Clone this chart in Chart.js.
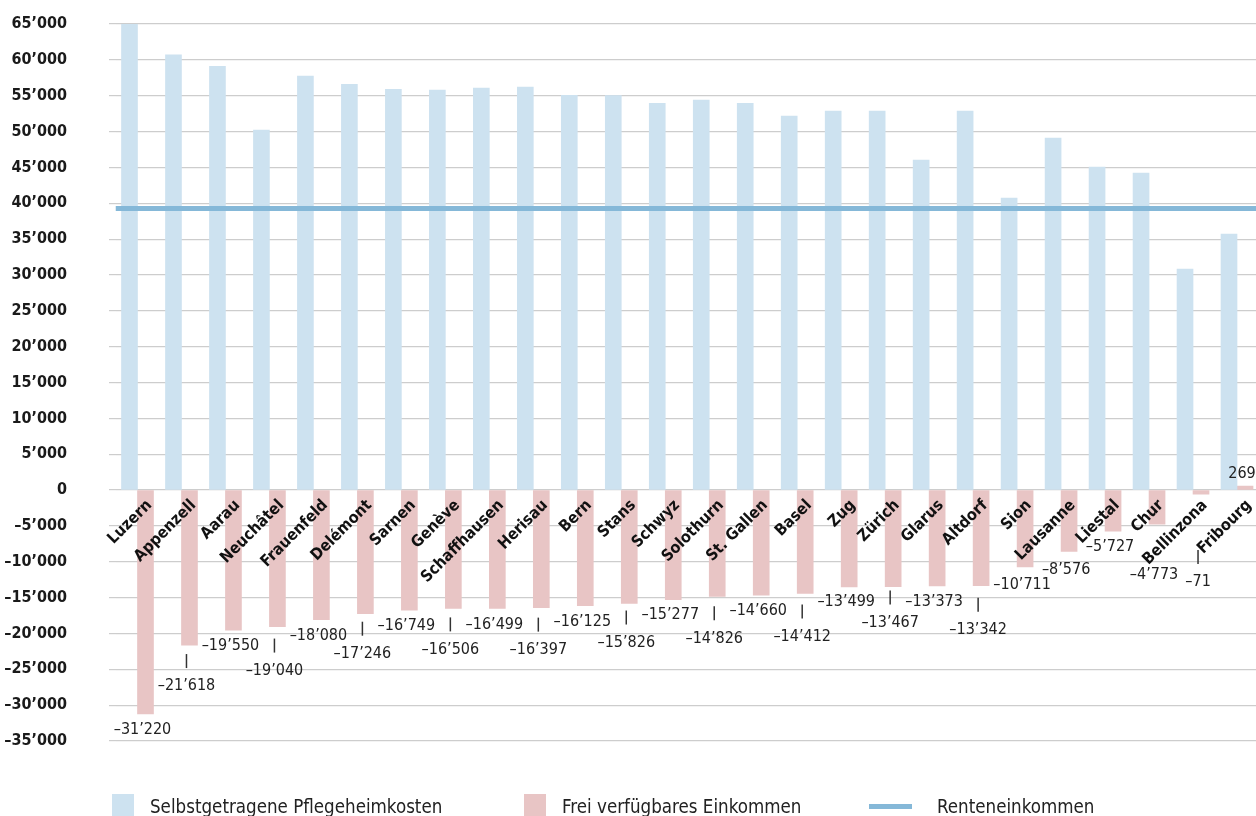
<!DOCTYPE html>
<html>
<head>
<meta charset="utf-8">
<script src="https://cdn.jsdelivr.net/npm/chart.js@4.4.0/dist/chart.umd.min.js"></script>
<style>
  html, body { margin: 0; padding: 0; background: #fff; width: 1256px; height: 816px; overflow: hidden; }
  #wrap { position: absolute; left: 0; top: 0; width: 1259px; height: 816px; }
  #legend { position: absolute; left: 0; top: 794px; width: 1256px; height: 30px;
            font-family: 'Liberation Sans Narrow', 'DejaVu Sans Condensed', sans-serif; font-size: 18.6px; color: #222; }
  .item { position: absolute; top: 0; height: 24px; display: flex; align-items: center; white-space: nowrap; }
  .swatch { width: 22px; height: 24px; margin-right: 16px; }
  .line { width: 43px; height: 5px; margin-right: 25px; }
</style>
</head>
<body>
<div id="wrap"><canvas id="myChart"></canvas></div>
<div id="legend"></div>
<script>
const cantons = ['Luzern', 'Appenzell', 'Aarau', 'Neuchâtel', 'Frauenfeld', 'Delémont', 'Sarnen', 'Genève',
  'Schaffhausen', 'Herisau', 'Bern', 'Stans', 'Schwyz', 'Solothurn', 'St. Gallen', 'Basel', 'Zug', 'Zürich',
  'Glarus', 'Altdorf', 'Sion', 'Lausanne', 'Liestal', 'Chur', 'Bellinzona', 'Fribourg'];

// Selbstgetragene Pflegeheimkosten
const pflegekosten = [65100, 60700, 59100, 50200, 57750, 56600, 55900, 55800, 56050, 56200, 55050, 55000,
  53950, 54400, 53950, 52150, 52850, 52850, 46030, 52870, 40730, 49100, 45060, 44220, 30820, 35710];

// Frei verfügbares Einkommen (values printed in the chart)
const freiEinkommen = [-31220, -21618, -19550, -19040, -18080, -17246, -16749, -16506, -16499, -16397, -16125,
  -15826, -15277, -14826, -14660, -14412, -13499, -13467, -13373, -13342, -10711, -8576, -5727, -4773, -71, 269];

const renteneinkommen = 39260;

const yMin = -35000;
const yMax = 65000;
const yStep = 5000;

// where each value label sits below (or above) its bar, and which ones get a small leader line
const labelDrop = [16, 41, 16, 44, 16, 40, 16, 41, 16, 42, 16, 39, 15, 42, 16, 43, 15, 36, 16, 44, 18, 18, 16, 51, 88, -12];
const leader = [0, 1, 0, 1, 0, 1, 0, 1, 0, 1, 0, 1, 0, 1, 0, 1, 0, 1, 0, 1, 0, 0, 0, 0, 1, 0];

const FONT = "'Liberation Sans Narrow', 'DejaVu Sans Condensed', sans-serif";

function fmt(v) {
    const s = Math.abs(v).toString().replace(/\B(?=(\d{3})+(?!\d))/g, '’');
    return (v < 0 ? '–' : '') + s;
}

const valueLabels = {
    id: 'valueLabels',
    afterDatasetsDraw(chart) {
        const ctx = chart.ctx;
        const meta = chart.getDatasetMeta(2);
        ctx.save();
        ctx.font = '16px ' + FONT;
        ctx.fillStyle = '#222';
        ctx.strokeStyle = '#333';
        ctx.lineWidth = 1.5;
        ctx.textAlign = 'center';
        ctx.textBaseline = 'middle';
        meta.data.forEach((bar, i) => {
            const x = bar.x - 3;
            const cy = bar.y + labelDrop[i];
            if (leader[i]) {
                ctx.beginPath();
                ctx.moveTo(x, cy - 32);
                ctx.lineTo(x, cy - 18);
                ctx.stroke();
            }
            ctx.fillText(fmt(freiEinkommen[i]), x, cy);
        });
        ctx.restore();
    }
};

const ctx = document.getElementById('myChart').getContext('2d');
const chart = new Chart(ctx, {
    type: 'bar',
    data: {
        labels: cantons,
        datasets: [{
            type: 'line',
            label: 'Renteneinkommen',
            data: [{x: 0, y: renteneinkommen}, {x: 1, y: renteneinkommen}],
            xAxisID: 'x2',
            borderColor: '#85b8d8',
            backgroundColor: '#85b8d8',
            borderWidth: 5,
            pointRadius: 0,
            order: 0
        }, {
            label: 'Selbstgetragene Pflegeheimkosten',
            data: pflegekosten,
            backgroundColor: '#cde2f0',
            barThickness: 16,
            order: 1
        }, {
            label: 'Frei verfügbares Einkommen',
            data: freiEinkommen,
            backgroundColor: '#e8c5c5',
            barThickness: 16,
            minBarLength: 4,
            order: 2
        }]
    },
    options: {
        responsive: true,
        maintainAspectRatio: false,
        animation: false,
        layout: {padding: {left: 0, right: 0, top: 24, bottom: 75}},
        plugins: {legend: {display: false}, tooltip: {enabled: false}},
        scales: {
            x: {
                type: 'category',
                position: {y: 0},
                grid: {display: false, drawTicks: false},
                border: {display: false},
                ticks: {
                    z: 1,
                    autoSkip: false,
                    minRotation: 45,
                    maxRotation: 45,
                    padding: 6,
                    labelOffset: 12,
                    color: '#111',
                    font: {family: FONT, size: 16, weight: 'bold'}
                }
            },
            x2: {type: 'linear', display: false, offset: false, min: 0, max: 1},
            y: {
                min: yMin,
                max: yMax,
                afterFit: (s) => {
                    s.width = 115.5;
                    s.paddingTop = 10;
                    s.paddingBottom = 10;
                },
                grid: {color: '#cdcdcd', lineWidth: 1.2, tickLength: 6.5},
                border: {display: false},
                ticks: {
                    stepSize: yStep,
                    padding: 42,
                    color: '#1a1a1a',
                    font: {family: FONT, size: 16, weight: 'bold'},
                    callback: (v) => fmt(v)
                }
            }
        }
    },
    plugins: [valueLabels]
});

// legend built from the chart's own datasets
const legendLeft = [112, 524, 869];
const legendOrder = [1, 2, 0];
const legend = document.getElementById('legend');
legendOrder.forEach((di, k) => {
    const ds = chart.data.datasets[di];
    const item = document.createElement('div');
    item.className = 'item';
    item.style.left = legendLeft[k] + 'px';
    const sw = document.createElement('span');
    sw.className = ds.type === 'line' ? 'line' : 'swatch';
    sw.style.background = ds.backgroundColor;
    const tx = document.createElement('span');
    tx.textContent = ds.label;
    item.append(sw, tx);
    legend.append(item);
});
</script>
</body>
</html>
